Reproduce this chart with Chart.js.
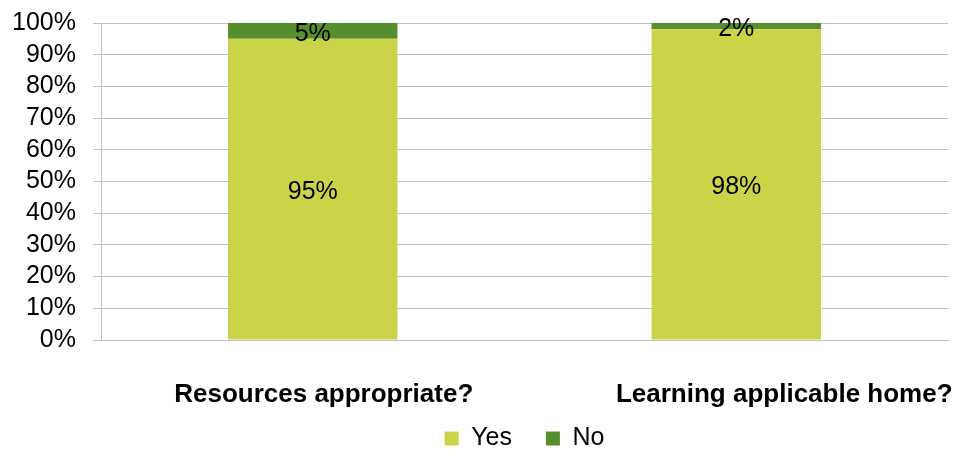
<!DOCTYPE html>
<html>
<head>
<meta charset="utf-8">
<script src="https://cdn.jsdelivr.net/npm/chart.js@4.4.0/dist/chart.umd.min.js"></script>
<style>
  html, body { margin: 0; padding: 0; background: #fff; }
  #wrap { width: 960px; height: 456px; }
</style>
</head>
<body>
<div id="wrap"><canvas id="myChart"></canvas></div>
<script>
const categories = ['Resources appropriate?', 'Learning applicable home?'];
const yesValues = [95, 98];
const noValues = [5, 2];
const yTicks = [0, 10, 20, 30, 40, 50, 60, 70, 80, 90, 100];

// Excel puts the category labels a bit right of the bar centres
const catShift = [11, 48];
const FONT = "'Liberation Sans', Arial, sans-serif";

// values written in the middle of each segment
const valueLabels = {
  id: 'valueLabels',
  afterDatasetsDraw(chart) {
    const c = chart.ctx;
    c.save();
    c.font = '25px ' + FONT;
    c.fillStyle = '#000';
    c.textAlign = 'center';
    c.textBaseline = 'middle';
    chart.data.datasets.forEach((ds, i) => {
      chart.getDatasetMeta(i).data.forEach((bar, j) => {
        const mid = (bar.y + bar.base) / 2 + 3;
        c.fillText(ds.data[j] + '%', bar.x, Math.max(mid, chart.chartArea.top + 5));
      });
    });
    c.restore();
  }
};

// bold category labels under the axis
const catLabels = {
  id: 'catLabels',
  afterDraw(chart) {
    const c = chart.ctx;
    const xs = chart.scales.x;
    c.save();
    c.font = 'bold 26px ' + FONT;
    c.fillStyle = '#000';
    c.textAlign = 'center';
    c.textBaseline = 'middle';
    categories.forEach((cat, i) => {
      c.fillText(cat, xs.getPixelForValue(i) + catShift[i], xs.top + 55);
    });
    c.restore();
  }
};

const ctx = document.getElementById('myChart').getContext('2d');
const myChart = new Chart(ctx, {
  type: 'bar',
  data: {
    labels: categories,
    datasets: [
      {
        label: 'Yes',
        data: yesValues,
        backgroundColor: '#CBD448',
        barPercentage: 0.4,
        categoryPercentage: 1,
      },
      {
        label: 'No',
        data: noValues,
        backgroundColor: '#568F2E',
        barPercentage: 0.4,
        categoryPercentage: 1,
      },
    ],
  },
  options: {
    responsive: true,
    maintainAspectRatio: false,
    animation: false,
    layout: {
      padding: { top: 23, left: 12, right: 12, bottom: -5 },
    },
    plugins: {
      tooltip: { enabled: false },
      legend: {
        position: 'bottom',
        fullSize: false,
        labels: {
          boxWidth: 14,
          boxHeight: 14,
          padding: 34,
          color: '#000',
          font: { family: FONT, size: 25, lineHeight: 1 },
        },
      },
    },
    scales: {
      x: {
        stacked: true,
        grid: { display: false },
        border: { display: true, color: '#c0c0c0' },
        ticks: {
          color: 'rgba(0,0,0,0)',
          padding: 21,
          maxRotation: 0,
          minRotation: 0,
          font: { family: FONT, size: 26, weight: 'bold' },
        },
        afterFit: (axis) => {
          axis.height = 52;
        },
      },
      y: {
        stacked: true,
        min: 0,
        max: 100,
        afterBuildTicks: (axis) => {
          axis.ticks = yTicks.map((v) => ({ value: v }));
        },
        afterFit: (axis) => {
          axis.width = 89;
          axis.paddingTop = 0;
          axis.paddingBottom = 0;
        },
        grid: { color: '#c0c0c0', tickLength: 8 },
        border: { color: '#c0c0c0' },
        ticks: {
          color: '#000',
          padding: 17,
          autoSkip: false,
          font: { family: FONT, size: 25 },
          callback: (v) => v + '%',
        },
      },
    },
  },
  plugins: [valueLabels, catLabels],
});
</script>
</body>
</html>
